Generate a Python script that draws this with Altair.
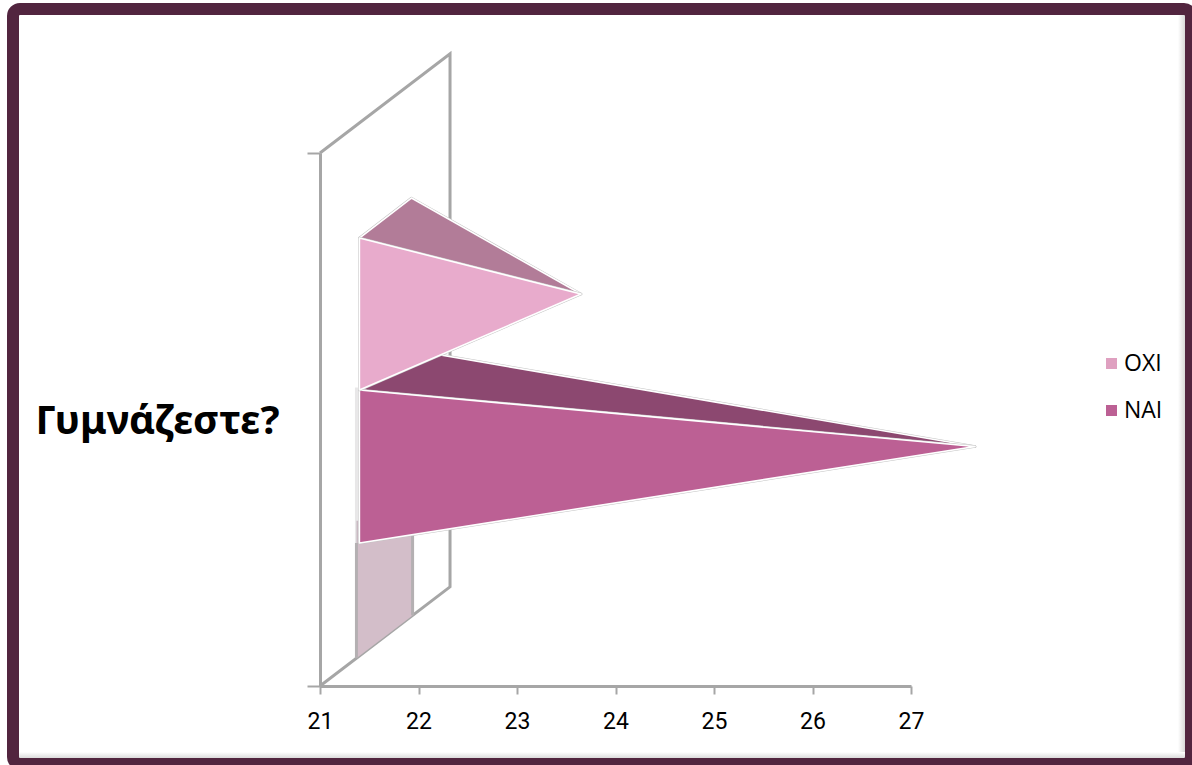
import altair as alt
import pandas as pd

# Survey answers and their values on the horizontal axis
series = ["ΟΧΙ", "ΝΑΙ"]
values = [23.65, 27.65]
tick_values = [21, 22, 23, 24, 25, 26, 27]
question = "Γυμνάζεστε?"

# Oblique projection of the 3D pyramid chart, in axis units
WALL_DX, WALL_DY = 1.32, 0.186
BAR_DX, BAR_DY = 0.528, 0.075
BASE_X = 21.4
BANDS = {"ΟΧΙ": (0.5553, 0.8405), "ΝΑΙ": (0.2683, 0.5553)}
FRONT = {"ΟΧΙ": "#E8ABCC", "ΝΑΙ": "#BC6094"}
TOP = {"ΟΧΙ": "#B27C98", "ΝΑΙ": "#8C4870"}
LEGEND_COLORS = ["#DFA0C0", "#BC6094"]
GRAY = "#A6A6A6"
FRAME = "#52253F"

PLOT_W, PLOT_H = 591, 533
LEFT, TOP_PAD = 320, 153

x_enc = alt.X(
    "x:Q",
    scale=alt.Scale(domain=[21, 27], nice=False, zero=False),
    axis=alt.Axis(
        values=tick_values, title=None, grid=False, format="d",
        domainColor=GRAY, domainWidth=3, tickColor=GRAY, tickWidth=2, tickSize=8,
        labelColor="#000000", labelFont="Roboto", labelFontSize=23, labelPadding=16,
        labelAlign="center", labelFlush=False, labelOverlap=False,
    ),
)
y_enc = alt.Y(
    "y:Q",
    scale=alt.Scale(domain=[0, 1], nice=False, zero=False),
    axis=alt.Axis(
        values=[0, 1], labels=False, grid=False,
        domainColor=GRAY, domainWidth=3, tickColor=GRAY, tickWidth=2, tickSize=13,
        title=question, titleAngle=0, titleFont="Noto Sans", titleFontSize=40,
        titleFontWeight="bold", titleColor="#000000", titleAlign="center",
        titleBaseline="middle", titleX=-163, titleY=268,
    ),
)


def triangle_rows(points):
    """Turn a triangle into x / y / y2 rows an area mark can fill."""
    pts = sorted(points)
    (x0, y0), (x2, y2) = pts[0], pts[-1]
    rows = []
    for px, py in pts:
        if px == x0 and pts[1][0] == x0:
            lo, hi = min(pts[0][1], pts[1][1]), max(pts[0][1], pts[1][1])
            if rows:
                continue
        else:
            edge = y0 + (y2 - y0) * (px - x0) / (x2 - x0)
            lo, hi = min(py, edge), max(py, edge)
        rows.append({"x": px, "y": lo, "y2": hi})
    return pd.DataFrame(rows)


def face(points, fill):
    data = triangle_rows(points)
    halo = alt.Chart(data).mark_area(
        fill=fill, stroke="#C4C4C4", strokeWidth=2.6, strokeJoin="round", interpolate="linear"
    ).encode(x=x_enc, y=y_enc, y2="y2:Q")
    edge = alt.Chart(data).mark_area(
        fill=fill, stroke="#FFFFFF", strokeWidth=1.6, strokeJoin="round", interpolate="linear"
    ).encode(x=x_enc, y=y_enc, y2="y2:Q")
    return [halo, edge]


def pyramid(name, value):
    low, high = BANDS[name]
    tip = (low + high) / 2 + BAR_DY / 2
    front = [(BASE_X, low), (BASE_X, high), (value, tip)]
    top = [(BASE_X, high), (BASE_X + BAR_DX, high + BAR_DY), (value, tip)]
    return face(top, TOP[name]) + face(front, FRONT[name])


# Invisible layer that anchors both axes to the full domain
axes = alt.Chart(pd.DataFrame({"x": [21, 27], "y": [0, 1]})).mark_point(opacity=0).encode(x=x_enc, y=y_enc)

# Back wall of the 3D box
wall = alt.Chart(pd.DataFrame({
    "x": [21, 21 + WALL_DX, 21 + WALL_DX, 21],
    "y": [1, 1 + WALL_DY, WALL_DY, 0],
    "i": [0, 1, 2, 3],
})).mark_line(color=GRAY, strokeWidth=3, interpolate="linear").encode(
    x=x_enc, y=y_enc, order="i:Q",
)

# Floor shadow of the long pyramid
SHADOW_X0, SHADOW_X1 = 21.37, 21.94
SHADOW_TOP = 0.31
SHADOW_LEFT_TOP = BANDS["ΝΑΙ"][0]
shadow_floor = [(SHADOW_X0 - 21) / WALL_DX * WALL_DY, (SHADOW_X1 - 21) / WALL_DX * WALL_DY]
shadow = alt.Chart(pd.DataFrame({
    "x": [SHADOW_X0, SHADOW_X1],
    "y": shadow_floor,
    "y2": [SHADOW_TOP, SHADOW_TOP],
})).mark_area(color="#D3BEC9", interpolate="linear").encode(x=x_enc, y=y_enc, y2="y2:Q")
shadow_edges = alt.Chart(pd.DataFrame({
    "x": [SHADOW_X0, SHADOW_X1],
    "y": shadow_floor,
    "y2": [SHADOW_LEFT_TOP, SHADOW_TOP],
})).mark_rule(color="#B4B0B2", strokeWidth=3).encode(x=x_enc, y=y_enc, y2="y2:Q")
shadow_fade = alt.Chart(pd.DataFrame({
    "x": [SHADOW_X0],
    "y": [SHADOW_LEFT_TOP],
    "y2": [0.56],
})).mark_rule(color="#B4B0B2", strokeWidth=3, opacity=0.3).encode(x=x_enc, y=y_enc, y2="y2:Q")

# Legend only: the squares themselves are not drawn in the plot
legend_layer = alt.Chart(pd.DataFrame({"series": series, "x": values, "y": [0.7, 0.4]})).mark_square(size=0).encode(
    x=x_enc,
    y=y_enc,
    color=alt.Color(
        "series:N",
        scale=alt.Scale(domain=series, range=LEGEND_COLORS),
        legend=alt.Legend(
            title=None, orient="none", legendX=780, legendY=199,
            symbolType="square", symbolSize=121, symbolStrokeWidth=0, symbolOpacity=1,
            labelFont="Open Sans", labelFontSize=23, labelColor="#000000", labelOffset=1,
            rowPadding=23,
        ),
    ),
)


# Picture frame around the whole slide
def px_x(v):
    return alt.value(v - LEFT)


def px_y(v):
    return alt.value(v - TOP_PAD)


frame = alt.Chart(pd.DataFrame({"a": [0]})).mark_rect(
    fillOpacity=0, stroke=FRAME, strokeWidth=12, cornerRadius=7
).encode(x=px_x(13), x2=px_x(1191), y=px_y(9), y2=px_y(764))

right_glow = alt.Chart(pd.DataFrame({"a": [0]})).mark_rect(
    color=alt.LinearGradient(
        gradient="linear", x1=0, x2=1, y1=0, y2=0,
        stops=[alt.GradientStop(color="#FFFFFF", offset=0), alt.GradientStop(color="#D8D8D8", offset=1)],
    )
).encode(x=px_x(1178), x2=px_x(1185), y=px_y(15), y2=px_y(758))

bottom_glow = alt.Chart(pd.DataFrame({"a": [0]})).mark_rect(
    color=alt.LinearGradient(
        gradient="linear", x1=0, x2=0, y1=0, y2=1,
        stops=[alt.GradientStop(color="#FFFFFF", offset=0), alt.GradientStop(color="#DCDCDC", offset=1)],
    )
).encode(x=px_x(19), x2=px_x(1185), y=px_y(752), y2=px_y(758))

layers = [axes, right_glow, bottom_glow, frame, wall, shadow, shadow_edges, shadow_fade]
layers += pyramid("ΝΑΙ", values[1])
layers += pyramid("ΟΧΙ", values[0])
layers += [legend_layer]

chart = alt.layer(*layers).properties(
    width=PLOT_W,
    height=PLOT_H,
    padding={"left": LEFT, "top": TOP_PAD, "right": 1192 - LEFT - PLOT_W, "bottom": 765 - TOP_PAD - PLOT_H},
    autosize=alt.AutoSizeParams(type="none"),
    background="#FFFFFF",
).configure_view(stroke=None)

chart.save("out.html", embed_options={"renderer": "svg", "actions": False})
